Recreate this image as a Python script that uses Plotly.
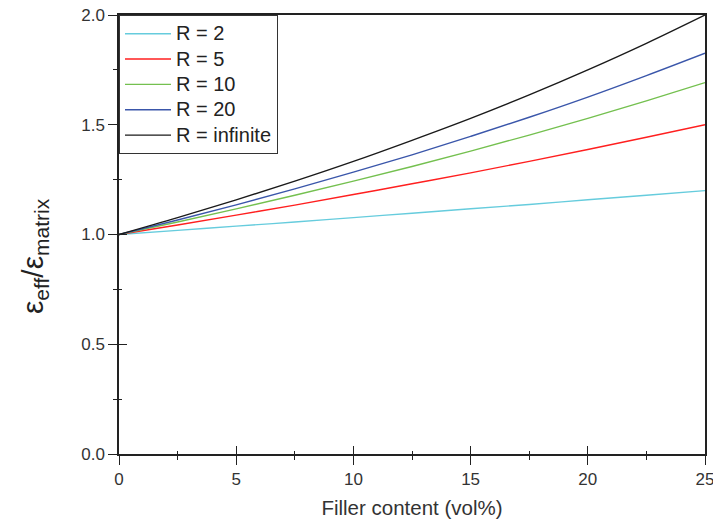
import plotly.graph_objects as go

# Filler content (vol%)
filler = [0, 2.5, 5, 7.5, 10, 12.5, 15, 17.5, 20, 22.5, 25]

# eps_eff / eps_matrix
r2 = [1.000, 1.019, 1.038, 1.057, 1.077, 1.097, 1.117, 1.137, 1.158, 1.179, 1.200]
r5 = [1.000, 1.043, 1.088, 1.134, 1.182, 1.231, 1.281, 1.333, 1.387, 1.443, 1.500]
r10 = [1.000, 1.057, 1.117, 1.179, 1.243, 1.310, 1.380, 1.453, 1.529, 1.609, 1.692]
r20 = [1.000, 1.066, 1.135, 1.208, 1.284, 1.363, 1.447, 1.534, 1.626, 1.724, 1.826]
rinf = [1.000, 1.077, 1.158, 1.243, 1.333, 1.429, 1.529, 1.636, 1.750, 1.871, 2.000]

names = ["R = 2", "R = 5", "R = 10", "R = 20", "R = infinite"]
series = [r2, r5, r10, r20, rinf]
colors = ["#66ccdd", "#ff1f1f", "#74c04f", "#3a56aa", "#1a1a1a"]

x_ticks = [0, 5, 10, 15, 20, 25]
y_ticks = [0.0, 0.5, 1.0, 1.5, 2.0]

FONT = "Liberation Sans, Arial, sans-serif"
AX = "#222222"
TXT = "#333333"

fig = go.Figure()
for n, s, c in zip(names, series, colors):
    fig.add_trace(go.Scatter(x=filler, y=s, name=f'<span style="font-size:20px">{n}</span>',
                             mode="lines",
                             line=dict(color=c, width=1.4, shape="spline")))
# dummy trace to anchor overlay axes (for crossing ticks)
fig.add_trace(go.Scatter(x=[None], y=[None], xaxis="x2", yaxis="y2",
                         showlegend=False, hoverinfo="skip"))

fig.update_layout(
    width=713, height=519,
    margin=dict(l=119, r=8, t=15, b=65, autoexpand=False),
    paper_bgcolor="white", plot_bgcolor="white",
    font=dict(family=FONT, color=TXT),
    showlegend=True,
    legend=dict(x=0, y=1, xanchor="left", yanchor="top",
                bgcolor="white", bordercolor="#333333", borderwidth=1,
                font=dict(size=17.2, color="#222222", family=FONT),
                traceorder="normal", itemwidth=46),
    xaxis=dict(range=[0, 25], tickvals=x_ticks, ticktext=[str(v) for v in x_ticks],
               ticks="outside", ticklen=9, tickwidth=1.3, tickcolor=AX,
               minor=dict(ticks="outside", ticklen=4, tickwidth=1.2, dtick=2.5, tickcolor=AX, tick0=0),
               showline=True, linecolor=AX, linewidth=1.5, mirror=True,
               showgrid=False, zeroline=False, automargin=False,
               ticklabeloverflow="allow",
               tickfont=dict(size=17, color=TXT, family=FONT),
               title=dict(text="Filler content (vol%)", standoff=12,
                          font=dict(size=20.5, color=TXT, family=FONT))),
    yaxis=dict(range=[0, 2], tickvals=y_ticks, ticktext=[f"{v:.1f}" for v in y_ticks],
               ticks="outside", ticklen=9, tickwidth=1.3, tickcolor=AX,
               minor=dict(ticks="outside", ticklen=4, tickwidth=1.2, dtick=0.25, tickcolor=AX, tick0=0),
               showline=True, linecolor=AX, linewidth=1.5, mirror=True,
               showgrid=False, zeroline=False, automargin=False,
               ticklabeloverflow="allow",
               tickfont=dict(size=17, color=TXT, family=FONT)),
    xaxis2=dict(overlaying="x", anchor="y2", side="bottom", range=[0, 25],
                tickvals=x_ticks, ticks="inside", ticklen=8, tickwidth=1.3, tickcolor=AX,
                minor=dict(ticks="inside", ticklen=3, tickwidth=1.2, dtick=2.5, tickcolor=AX, tick0=0),
                showticklabels=False, showline=False, showgrid=False, zeroline=False,
                automargin=False),
    yaxis2=dict(overlaying="y", anchor="x2", side="left", range=[0, 2],
                tickvals=y_ticks, ticks="inside", ticklen=8, tickwidth=1.3, tickcolor=AX,
                minor=dict(ticks="inside", ticklen=3, tickwidth=1.2, dtick=0.25, tickcolor=AX, tick0=0),
                showticklabels=False, showline=False, showgrid=False, zeroline=False,
                automargin=False),
    annotations=[dict(
        text="ε<sub>eff</sub>/ε<sub>matrix</sub>",
        xref="paper", yref="paper", x=-(119 - 34) / 586, y=(454 - 256) / 439,
        xanchor="center", yanchor="middle", textangle=-90, showarrow=False,
        font=dict(size=30, color="#222222", family=FONT))],
)

fig.write_html("out.html")
